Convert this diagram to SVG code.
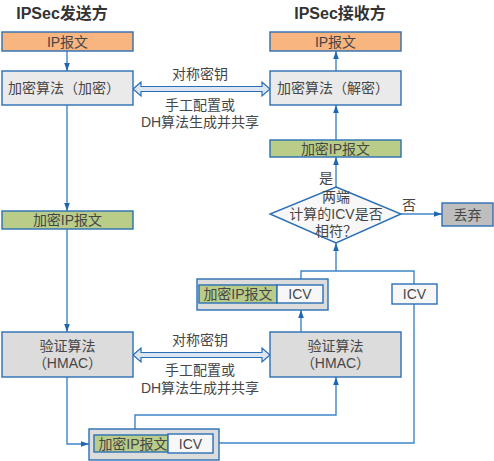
<svg xmlns="http://www.w3.org/2000/svg" width="494" height="461" viewBox="0 0 494 461">
<defs>
<style>
text{font-family:"Liberation Sans","Noto Sans CJK SC",sans-serif;font-size:14px;fill:#464646;text-anchor:middle;dominant-baseline:central}
.title{font-size:16px;font-weight:bold;fill:#333}
.box{stroke:#2A6FB5;stroke-width:1.4}
.orange{fill:#F8B580}
.light{fill:#EAEAEA}
.gray{fill:#DCDCDC}
.green{fill:#B9CC88}
.white{fill:#F7F7F7}
.drop{fill:#BEBEBE}
.line{fill:none;stroke:#3F86C8;stroke-width:1.4}
.dbl{fill:#DCE6F2;stroke:#2A6FB5;stroke-width:1.2}
</style>
<marker id="ah" markerWidth="8" markerHeight="10" refX="10" refY="3.5" orient="auto" markerUnits="userSpaceOnUse" viewBox="0 0 10 7">
<path d="M0,0 L10,3.5 L0,7 Z" fill="#1F66B0"/>
</marker>
</defs>

<text class="title" x="62" y="13">IPSec发送方</text>
<text class="title" x="340" y="13">IPSec接收方</text>

<g id="connectors">
<path class="line" d="M67,51 V71" marker-end="url(#ah)"/>
<path class="line" d="M67,105 V211" marker-end="url(#ah)"/>
<path class="line" d="M67,229 V332" marker-end="url(#ah)"/>
<path class="line" d="M67,377 V444 H89" marker-end="url(#ah)"/>
<path class="line" d="M135,435 V415 H336 V377" marker-end="url(#ah)"/>
<path class="line" d="M213,443 H414 V304"/>
<path class="line" d="M301,332 V310" marker-end="url(#ah)"/>
<path class="line" d="M301,285 V271 H414 V284"/>
<path class="line" d="M336,271 V243" marker-end="url(#ah)"/>
<path class="line" d="M336,187 V157" marker-end="url(#ah)"/>
<path class="line" d="M336,140 V105" marker-end="url(#ah)"/>
<path class="line" d="M336,71 V51" marker-end="url(#ah)"/>
<path class="line" d="M401,214 H442" marker-end="url(#ah)"/>
<polygon class="dbl" points="133,89 141,82 141,86.5 262,86.5 262,82 270,89 262,96 262,91.5 141,91.5 141,96"/>
<polygon class="dbl" points="133,355 141,348 141,352.5 262,352.5 262,348 270,355 262,362 262,357.5 141,357.5 141,362"/>
<text x="200" y="74">对称密钥</text>
<text x="200" y="105">手工配置或</text>
<text x="200" y="122">DH算法生成并共享</text>
<text x="200" y="340">对称密钥</text>
<text x="200" y="370">手工配置或</text>
<text x="200" y="388">DH算法生成并共享</text>
<text x="326" y="178">是</text>
<text x="409" y="205">否</text>
</g>

<g id="s-ip">
<rect class="box orange" x="2" y="32" width="131" height="19"/>
<text x="67.5" y="41.5">IP报文</text>
</g>
<g id="s-enc">
<rect class="box light" x="2" y="71" width="131" height="34"/>
<text x="64" y="88">加密算法（加密）</text>
</g>
<g id="s-encpkt">
<rect class="box green" x="2" y="211" width="131" height="18"/>
<text x="67.5" y="220">加密IP报文</text>
</g>
<g id="s-hmac">
<rect class="box gray" x="2" y="332" width="131" height="45"/>
<text x="67.5" y="346">验证算法</text>
<text x="67.5" y="363">（HMAC）</text>
</g>
<g id="s-pkt">
<rect class="box gray" x="89" y="429" width="130" height="31"/>
<rect class="box green" x="94" y="435" width="74" height="17"/>
<text x="133" y="443.5">加密IP报文</text>
<rect class="box white" x="168" y="434" width="45" height="19"/>
<text x="190.5" y="443.5">ICV</text>
</g>

<g id="r-ip">
<rect class="box orange" x="270" y="32" width="131" height="19"/>
<text x="335.5" y="41.5">IP报文</text>
</g>
<g id="r-dec">
<rect class="box light" x="270" y="71" width="131" height="34"/>
<text x="333" y="88">加密算法（解密）</text>
</g>
<g id="r-encpkt">
<rect class="box green" x="270" y="140" width="131" height="17"/>
<text x="335.5" y="148.5">加密IP报文</text>
</g>
<g id="r-cmp">
<polygon class="box white" points="336,187 401,214 336,243 270,214"/>
<text x="336" y="197">两端</text>
<text x="336" y="214">计算的ICV是否</text>
<text x="336" y="231">相符？</text>
</g>
<g id="r-drop">
<rect class="box drop" x="442" y="203" width="51" height="23"/>
<text x="467.5" y="214.5">丢弃</text>
</g>
<g id="r-pkt">
<rect class="box gray" x="197" y="279" width="131" height="31"/>
<rect class="box green" x="199" y="285" width="78" height="18"/>
<text x="238" y="294">加密IP报文</text>
<rect class="box white" x="277" y="285" width="46" height="18"/>
<text x="300" y="294">ICV</text>
</g>
<g id="r-icv">
<rect class="box white" x="392" y="284" width="45" height="20"/>
<text x="414.5" y="294">ICV</text>
</g>
<g id="r-hmac">
<rect class="box gray" x="270" y="332" width="131" height="45"/>
<text x="335.5" y="346">验证算法</text>
<text x="335.5" y="363">（HMAC）</text>
</g>
</svg>
